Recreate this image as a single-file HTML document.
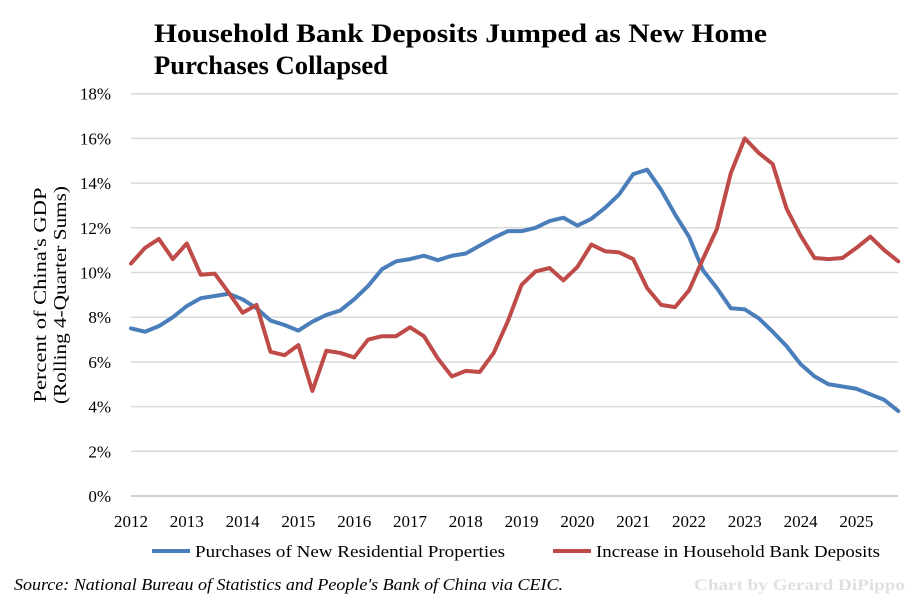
<!DOCTYPE html>
<html><head><meta charset="utf-8"><style>
body{margin:0;background:#fff;}
svg text{font-family:"Liberation Serif",serif;}
</style></head><body>
<svg width="922" height="605" xmlns="http://www.w3.org/2000/svg">
<text x="154" y="42" font-size="26" font-weight="bold" fill="#000" textLength="613" lengthAdjust="spacingAndGlyphs">Household Bank Deposits Jumped as New Home</text>
<text x="154" y="74" font-size="26" font-weight="bold" fill="#000" textLength="234" lengthAdjust="spacingAndGlyphs">Purchases Collapsed</text>
<g id="grid"></g>
<g id="yt"></g>
<g id="xt"></g>
<text transform="translate(46,295) rotate(-90)" text-anchor="middle" font-size="18" textLength="215" lengthAdjust="spacingAndGlyphs">Percent of China's GDP</text>
<text transform="translate(66,295) rotate(-90)" text-anchor="middle" font-size="18" textLength="218" lengthAdjust="spacingAndGlyphs">(Rolling 4-Quarter Sums)</text>
<g id="lines"></g>
<g>
<line x1="152" y1="551" x2="190" y2="551" stroke="#4a7ebb" stroke-width="4"/>
<text x="195" y="557" font-size="17" textLength="310" lengthAdjust="spacingAndGlyphs">Purchases of New Residential Properties</text>
<line x1="553" y1="551" x2="591" y2="551" stroke="#be4b48" stroke-width="4"/>
<text x="596" y="557" font-size="17" textLength="284" lengthAdjust="spacingAndGlyphs">Increase in Household Bank Deposits</text>
</g>
<text x="14" y="590" font-size="17" font-style="italic" textLength="549" lengthAdjust="spacingAndGlyphs">Source: National Bureau of Statistics and People's Bank of China via CEIC.</text>
<text x="694" y="590" font-size="16" font-weight="bold" fill="#e0e0e0" textLength="211" lengthAdjust="spacingAndGlyphs">Chart by Gerard DiPippo</text>
</svg>
<script>
const yTicks=[0,2,4,6,8,10,12,14,16,18];
const xYears=[2012,2013,2014,2015,2016,2017,2018,2019,2020,2021,2022,2023,2024,2025];
const purchases=[7.5,7.35,7.6,8.0, 8.5,8.85,8.95,9.05, 8.8,8.4,7.85,7.65, 7.4,7.8,8.1,8.3, 8.8,9.4,10.15,10.5, 10.6,10.75,10.55,10.75, 10.85,11.2,11.55,11.85, 11.85,12.0,12.3,12.45, 12.1,12.4,12.9,13.5, 14.4,14.6,13.7,12.6, 11.6,10.1,9.3,8.4, 8.35,7.95,7.35,6.7, 5.9,5.35,5.0,4.9, 4.8,4.55,4.3,3.8];
const deposits=[10.4,11.1,11.5,10.6, 11.3,9.9,9.95,9.1, 8.2,8.55,6.45,6.3, 6.75,4.7,6.5,6.4, 6.2,7.0,7.15,7.15, 7.55,7.15,6.15,5.35, 5.6,5.55,6.4,7.8, 9.45,10.05,10.2,9.65, 10.25,11.25,10.95,10.9, 10.6,9.3,8.55,8.45, 9.2,10.6,11.95,14.45, 16.0,15.35,14.85,12.85, 11.65,10.65,10.6,10.65, 11.1,11.6,11.0,10.5];
const NS="http://www.w3.org/2000/svg";
const X0=131,DX=13.95,Y0=496,DY=22.35;
const xq=i=>X0+i*DX, yv=v=>Y0-v*DY;
function mk(t,a,p){const e=document.createElementNS(NS,t);for(const k in a)e.setAttribute(k,a[k]);p.appendChild(e);return e;}
const grid=document.getElementById('grid'),yt=document.getElementById('yt'),xt=document.getElementById('xt'),lines=document.getElementById('lines');
yTicks.forEach(v=>{
  const l=mk('line',{x1:X0,x2:898,y1:yv(v),y2:yv(v),stroke:v===0?'#bfbfbf':'#d9d9d9','stroke-width':1.5},grid);
  
  
  const t=mk('text',{x:111,y:yv(v)+6,'text-anchor':'end','font-size':17},yt);
  t.textContent=v+'%';
  
  
});
xYears.forEach((yr,i)=>{
  const t=mk('text',{x:xq(i*4),y:527,'text-anchor':'middle','font-size':17},xt);
  t.textContent=yr;
  
  
});
function line(d,c,n){
  const p=mk('polyline',{points:d.map((v,i)=>xq(i)+','+yv(v)).join(' '),fill:'none',stroke:c,'stroke-width':4,'stroke-linejoin':'round','stroke-linecap':'round'},lines);
  
  
}
line(purchases,'#4a7ebb','line-purchases');
line(deposits,'#be4b48','line-deposits');
</script>
</body></html>
